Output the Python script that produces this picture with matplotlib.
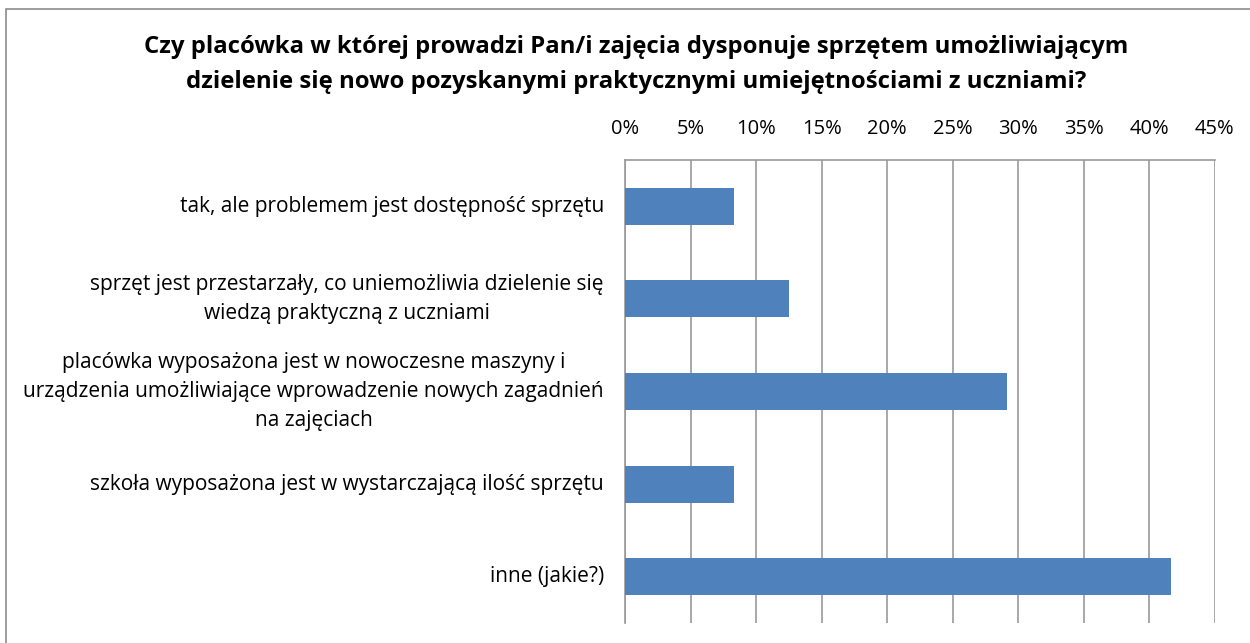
import matplotlib
matplotlib.use("Agg")
import matplotlib.pyplot as plt
from matplotlib.patches import Rectangle
from matplotlib.ticker import FuncFormatter
from matplotlib.transforms import blended_transform_factory

title_lines = ["Czy placówka w której prowadzi Pan/i zajęcia dysponuje sprzętem umożliwiającym",
               "dzielenie się nowo pozyskanymi praktycznymi umiejętnościami z uczniami?"]
categories = [
    "tak, ale problemem jest dostępność sprzętu",
    "sprzęt jest przestarzały, co uniemożliwia dzielenie się\nwiedzą praktyczną z uczniami",
    "placówka wyposażona jest w nowoczesne maszyny i\nurządzenia umożliwiające wprowadzenie nowych zagadnień\nna zajęciach",
    "szkoła wyposażona jest w wystarczającą ilość sprzętu",
    "inne (jakie?)",
]
values = [0.0833, 0.125, 0.2917, 0.0833, 0.4167]
xticks = [0, 0.05, 0.10, 0.15, 0.20, 0.25, 0.30, 0.35, 0.40, 0.45]

W, H = 1250, 643
plt.rcParams['font.family'] = ['Open Sans', 'DejaVu Sans']
fig = plt.figure(figsize=(W / 100, H / 100), dpi=100)
fig.patch.set_facecolor("white")

# outer chart frame
fig.add_artist(Rectangle((6 / W, -0.05), 1.2, 1 - 9 / H + 0.05, transform=fig.transFigure,
                         fill=False, edgecolor="#8c8c8c", linewidth=1.2))

x0, x1 = 625, 1214.7
y0, y1 = 160, 623
ax = fig.add_axes([x0 / W, 1 - y1 / H, (x1 - x0) / W, (y1 - y0) / H])

pos = list(range(len(categories)))
ax.barh(pos, values, height=0.40, color="#4f81bd", zorder=3)
ax.set_ylim(len(categories) - 0.5, -0.5)
ax.set_xlim(0, 0.45)
ax.set_xticks(xticks)
ax.xaxis.set_major_formatter(FuncFormatter(lambda v, p: f"{round(v * 100)}%"))
ax.xaxis.tick_top()
ax.tick_params(axis="x", length=0, pad=15, labelsize=14.5, colors="black")
ax.set_yticks([])

trans = blended_transform_factory(fig.transFigure, ax.transData)
for p, c in zip(pos, categories):
    ax.text(604 / W, p, c, transform=trans, ha="right", va="center", multialignment="center",
            fontsize=15, linespacing=1.52, color="#000000")

ax.grid(axis="x", color="#999999", linewidth=1.2, zorder=0)
for s in ["right", "bottom"]:
    ax.spines[s].set_visible(False)
for s in ["top", "left"]:
    ax.spines[s].set_color("#999999")
    ax.spines[s].set_linewidth(1.2)

for yy, t in zip([47, 82], title_lines):
    fig.text(636 / W, 1 - yy / H, t, ha="center", va="center", fontsize=17.2, fontweight="bold")

fig.savefig("out.png", dpi=100)
